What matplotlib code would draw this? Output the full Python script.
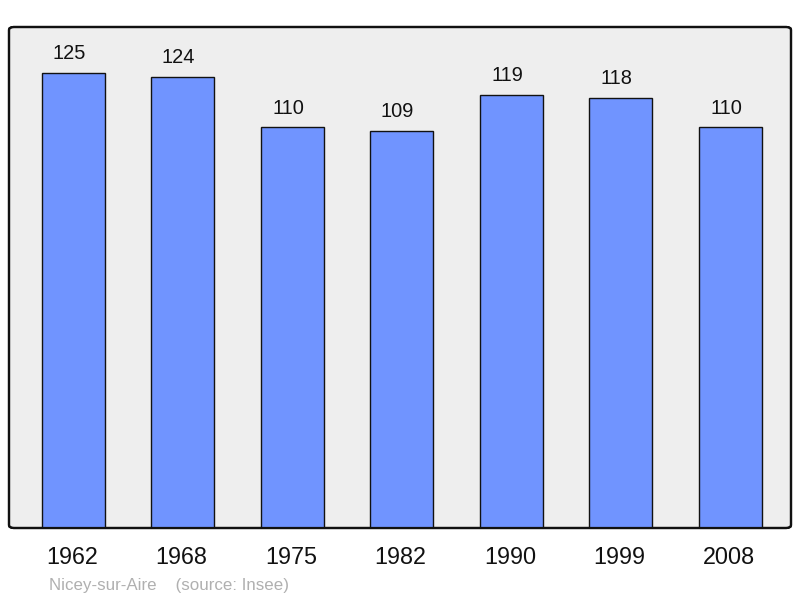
import matplotlib.pyplot as plt
import matplotlib.transforms as mtransforms
from matplotlib.patches import FancyBboxPatch

plt.rcParams['font.family'] = ['Liberation Sans', 'DejaVu Sans']

# Data
years = ['1962', '1968', '1975', '1982', '1990', '1999', '2008']
population = [125, 124, 110, 109, 119, 118, 110]
commune = 'Nicey-sur-Aire'
source = '(source: Insee)'

fig = plt.figure(figsize=(8.0, 5.98), dpi=100)
ax = fig.add_axes([9 / 800, 70 / 598, 782 / 800, 501 / 598])

# rounded frame with grey background
ax.patch.set_visible(False)
for s in ax.spines.values():
    s.set_visible(False)
frame = FancyBboxPatch((0, 0), 1, 1, boxstyle='round,pad=0,rounding_size=0.006',
                       transform=ax.transAxes, facecolor='#eeeeee', edgecolor='#111111',
                       linewidth=1.6, clip_on=False, zorder=0)
ax.add_patch(frame)

x = range(len(years))
bars = ax.bar(x, population, width=0.575, color='#7094ff', edgecolor='#111111',
              linewidth=1.0, zorder=2)
bar_frame_top = FancyBboxPatch((0, 0), 1, 1, boxstyle='round,pad=0,rounding_size=0.006',
                               transform=ax.transAxes, facecolor='none', edgecolor='#111111',
                               linewidth=1.6, clip_on=False, zorder=3)
ax.add_patch(bar_frame_top)

ax.set_xlim(-0.585, 6.555)
ax.set_ylim(0, 137.6)
ax.set_xticks([])
ax.set_yticks([])

# value labels sit a little left of bar centre, as in the original
for xi, v in zip(x, population):
    ax.annotate(str(v), (xi, v), xytext=(-3, 10), textcoords='offset points',
                ha='center', va='baseline', fontsize=14.4, color='#111111')

trans = mtransforms.blended_transform_factory(ax.transData, ax.transAxes)
for xi, y in zip(x, years):
    ax.text(xi - 0.01, -0.0719, y, transform=trans, ha='center', va='baseline',
            fontsize=16.8, color='#111111')

fig.text(49 / 800, 1 - 590 / 598, commune + '    ' + source, ha='left', va='baseline',
         fontsize=12.2, color='#b0b0b0')

fig.savefig('out.png', dpi=100)
